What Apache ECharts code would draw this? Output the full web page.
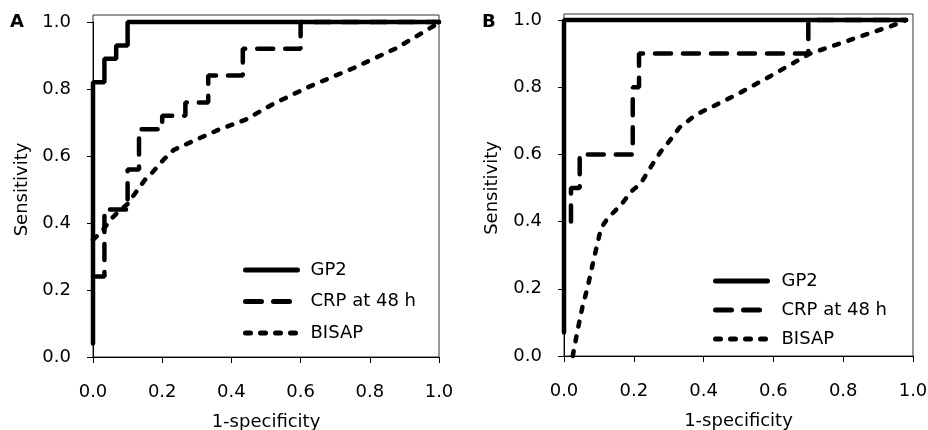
<!DOCTYPE html>
<html>
<head>
<meta charset="utf-8">
<script src="https://cdn.jsdelivr.net/npm/echarts@6/dist/echarts.min.js"></script>
<style>
  html, body { margin: 0; padding: 0; background: #fff; }
  #chart { width: 928px; height: 430px; }
</style>
</head>
<body>
<div id="chart"></div>
<script>
// Axis ticks shared by both panels
const axisTicks = [0, 0.2, 0.4, 0.6, 0.8, 1.0];
const seriesNames = ['GP2', 'CRP at 48 h', 'BISAP'];
const panelLetters = ['A', 'B'];

// Panel A: ROC points [1-specificity, sensitivity]
const gp2A = [[0, 0.04], [0, 0.82], [0.033, 0.82], [0.033, 0.89], [0.067, 0.89], [0.067, 0.93], [0.1, 0.93], [0.1, 1.0], [1.0, 1.0]];
const crpA = [[0, 0.24], [0.033, 0.24], [0.033, 0.44], [0.1, 0.44], [0.1, 0.56], [0.133, 0.56], [0.133, 0.68], [0.2, 0.68], [0.2, 0.72], [0.267, 0.72], [0.267, 0.76], [0.333, 0.76], [0.333, 0.84], [0.433, 0.84], [0.433, 0.92], [0.6, 0.92], [0.6, 1.0], [1.0, 1.0]];
const bisapA = [[0, 0.35], [0.026, 0.375], [0.05, 0.41], [0.074, 0.434], [0.1, 0.457], [0.122, 0.489], [0.151, 0.53], [0.17, 0.549], [0.204, 0.589], [0.233, 0.618], [0.286, 0.643], [0.362, 0.678], [0.44, 0.708], [0.52, 0.755], [0.627, 0.808], [0.752, 0.862], [0.877, 0.922], [0.983, 0.987], [1.0, 1.0]];

// Panel B: ROC points [1-specificity, sensitivity]
const gp2B = [[0, 0.07], [0, 1.0], [0.98, 1.0]];
const crpB = [[0.02, 0.4], [0.02, 0.5], [0.045, 0.5], [0.045, 0.6], [0.197, 0.6], [0.197, 0.8], [0.215, 0.8], [0.215, 0.9], [0.7, 0.9], [0.7, 1.0], [0.98, 1.0]];
const bisapB = [[0.025, 0], [0.039, 0.077], [0.053, 0.147], [0.068, 0.206], [0.087, 0.296], [0.096, 0.335], [0.106, 0.38], [0.125, 0.41], [0.163, 0.449], [0.192, 0.489], [0.22, 0.514], [0.249, 0.563], [0.277, 0.608], [0.306, 0.645], [0.331, 0.68], [0.378, 0.718], [0.493, 0.777], [0.588, 0.831], [0.664, 0.876], [0.705, 0.9], [0.779, 0.926], [0.874, 0.96], [0.96, 0.99], [0.98, 1.0]];

const FONT = 'DejaVu Sans';
const chart = echarts.init(document.getElementById('chart'));

const lineStyles = {
  'GP2': { type: 'solid', width: 4.5, cap: 'round' },
  'CRP at 48 h': { type: [16, 12], width: 4.5, cap: 'round' },
  'BISAP': { type: [5, 10], width: 4.5, cap: 'round' }
};

function plotXAxis(gridIndex) {
  return {
    type: 'value', gridIndex, min: axisTicks[0], max: axisTicks[axisTicks.length - 1], interval: 0.2,
    name: '1-specificity', nameLocation: 'middle', nameGap: 56,
    nameTextStyle: { fontFamily: FONT, fontSize: 18, color: '#000' },
    axisLine: { show: true, onZero: false, lineStyle: { color: '#000', width: 1 } },
    axisTick: { show: true, length: 6, lineStyle: { color: '#000', width: 1 } },
    axisLabel: { margin: 26, fontFamily: FONT, fontSize: 18, color: '#000', formatter: v => v.toFixed(1) },
    splitLine: { show: false }
  };
}
function plotYAxis(gridIndex, gap) {
  return {
    type: 'value', gridIndex, min: axisTicks[0], max: axisTicks[axisTicks.length - 1], interval: 0.2,
    name: 'Sensitivity', nameLocation: 'middle', nameGap: gap,
    nameTextStyle: { fontFamily: FONT, fontSize: 18, color: '#000' },
    axisLine: { show: true, onZero: false, lineStyle: { color: '#000', width: 1 } },
    axisTick: { show: true, length: 6, lineStyle: { color: '#000', width: 1 } },
    axisLabel: { margin: 22, fontFamily: FONT, fontSize: 18, color: '#000', formatter: v => v.toFixed(1) },
    splitLine: { show: false }
  };
}
function frameAxis(gridIndex) {
  return { type: 'value', gridIndex, min: 0, max: 1, show: false };
}

function rocSeries(name, data, axisIndex) {
  return {
    name, type: 'line', data, xAxisIndex: axisIndex, yAxisIndex: axisIndex,
    symbol: 'none', clip: false, animation: false,
    lineStyle: Object.assign({ color: '#000' }, lineStyles[name]),
    itemStyle: { color: '#000' },
    z: name === 'GP2' ? 4 : 3
  };
}

function legendAt(left, top, gap, padLeft) {
  return {
    orient: 'vertical', left, top, padding: 0, itemWidth: 52, itemHeight: 14, itemGap: gap,
    selectedMode: false, data: seriesNames,
    lineStyle: { width: 5 },
    itemStyle: { color: 'transparent', borderWidth: 0, opacity: 0 },
    textStyle: { fontFamily: FONT, fontSize: 18, color: '#000', padding: [0, 0, 0, padLeft] }
  };
}

function gridBox(left, top, width, height, framed) {
  const g = { left, top, width, height, outerBoundsMode: 'none', containLabel: false };
  if (framed) Object.assign(g, { show: true, borderColor: '#333', borderWidth: 1, z: 0 });
  return g;
}

const letterStyle = { fontFamily: FONT, fontSize: 18, fontWeight: 'bold', color: '#000' };

chart.setOption({
  backgroundColor: '#fff',
  animation: false,
  title: [
    { text: panelLetters[0], left: 10, top: 13, padding: 0, textStyle: letterStyle },
    { text: panelLetters[1], left: 482, top: 13, padding: 0, textStyle: letterStyle }
  ],
  grid: [
    gridBox(93, 22, 346, 335, false),
    gridBox(564, 20, 349, 336, false),
    gridBox(93, 15, 346, 342, true),
    gridBox(564, 14, 349, 342, true)
  ],
  xAxis: [plotXAxis(0), plotXAxis(1), frameAxis(2), frameAxis(3)],
  yAxis: [plotYAxis(0, 62), plotYAxis(1, 63), frameAxis(2), frameAxis(3)],
  legend: [legendAt(243, 261, 13.5, 8), legendAt(713, 272, 11, 9)],
  series: [
    rocSeries('BISAP', bisapA, 0),
    rocSeries('CRP at 48 h', crpA, 0),
    rocSeries('GP2', gp2A, 0),
    rocSeries('BISAP', bisapB, 1),
    rocSeries('CRP at 48 h', crpB, 1),
    rocSeries('GP2', gp2B, 1)
  ]
});
</script>
</body>
</html>
